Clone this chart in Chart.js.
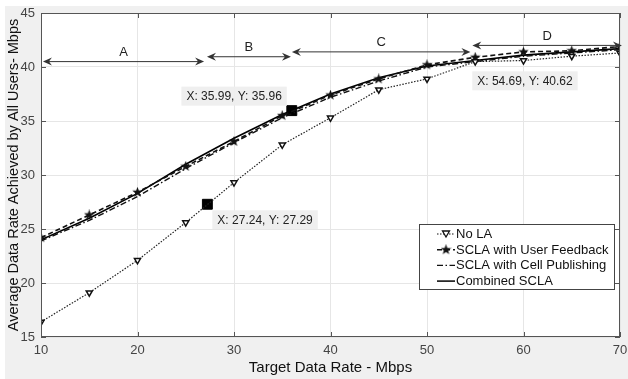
<!DOCTYPE html>
<html>
<head>
<meta charset="utf-8">
<script src="https://cdn.jsdelivr.net/npm/chart.js@4.4.1/dist/chart.umd.min.js"></script>
<style>
  body { margin: 0; background: #fff; }
  #wrap { width: 628px; height: 379px; }
</style>
</head>
<body>
<div id="wrap"><canvas id="chart"></canvas></div>
<script>
// target data rate (Mbps)
const targetRates = [10, 15, 20, 25, 30, 35, 40, 45, 50, 55, 60, 65, 70];

const noLA         = [16.4, 19.1, 22.1, 25.6, 29.3, 32.8, 35.3, 37.9, 38.9, 40.5, 40.6, 41.0, 41.3];
const userFeedback = [24.2, 26.3, 28.4, 30.8, 33.1, 35.5, 37.4, 38.9, 40.2, 40.9, 41.4, 41.5, 41.9];
const cellPublish  = [23.9, 25.8, 28.0, 30.6, 33.0, 35.3, 37.2, 38.7, 40.0, 40.5, 41.0, 41.3, 41.6];
const combined     = [24.0, 26.0, 28.3, 31.0, 33.4, 35.6, 37.5, 39.0, 40.1, 40.6, 41.1, 41.4, 41.7];

const seriesNames = ['No LA', 'SCLA with User Feedback', 'SCLA with Cell Publishing', 'Combined SCLA'];

// data tips
const tipX = [27.24, 35.99, 54.69];
const tipY = [27.29, 35.96, 40.62];
const tipShowMarker = [true, true, false];

// region arrows
const regionNames = ['A', 'B', 'C', 'D'];
const regionFrom  = [10.2, 27.2, 36.0, 54.7];
const regionTo    = [26.9, 35.9, 54.5, 70.2];
const regionLevel = [40.5, 40.95, 41.4, 42.0];

const xTicks = [10, 20, 30, 40, 50, 60, 70];
const yTicks = [15, 20, 25, 30, 35, 40, 45];

const FONT = '"Liberation Sans", Arial, sans-serif';

function makeStar(size) {
  const c = document.createElement('canvas');
  c.width = size; c.height = size;
  const g = c.getContext('2d');
  const cx = size / 2, cy = size / 2, ro = size / 2, ri = ro * 0.42;
  g.beginPath();
  for (let i = 0; i < 10; i++) {
    const r = i % 2 ? ri : ro;
    const a = -Math.PI / 2 + i * Math.PI / 5;
    g.lineTo(cx + r * Math.cos(a), cy + r * Math.sin(a));
  }
  g.closePath();
  g.fillStyle = '#111';
  g.fill();
  return c;
}
const star = makeStar(11);

const toPoints = ys => ys.map((y, i) => ({ x: targetRates[i], y: y }));

const styles = [
  { dash: [1.5, 1.5], width: 1.2, marker: 'tri' },
  { dash: [5, 3], width: 1.6, marker: 'star' },
  { dash: [6, 2.5, 1.5, 2.5], width: 1.4, marker: null },
  { dash: [], width: 1.6, marker: null }
];

function arrowHead(ctx, x, y, dir) {
  ctx.beginPath();
  ctx.moveTo(x, y);
  ctx.lineTo(x - dir * 9, y - 4);
  ctx.lineTo(x - dir * 6, y);
  ctx.lineTo(x - dir * 9, y + 4);
  ctx.closePath();
  ctx.fill();
}

const decor = {
  id: 'decor',
  beforeDraw(chart) {
    const ctx = chart.ctx, a = chart.chartArea;
    ctx.save();
    ctx.fillStyle = '#fff';
    ctx.fillRect(0, 0, chart.width, chart.height);
    ctx.fillStyle = '#f0f0f0';
    ctx.fillRect(5, 6, chart.width - 5, chart.height - 6);
    ctx.fillStyle = '#fff';
    ctx.fillRect(a.left, a.top, a.right - a.left, a.bottom - a.top);
    ctx.restore();
  },
  afterDatasetsDraw(chart) {
    const ctx = chart.ctx, a = chart.chartArea;
    const xs = chart.scales.x, ys = chart.scales.y;
    ctx.save();

    // box and inward ticks
    ctx.strokeStyle = '#555';
    ctx.lineWidth = 1;
    ctx.strokeRect(a.left + 0.5, a.top + 0.5, a.right - a.left - 1, a.bottom - a.top - 1);
    ctx.beginPath();
    xTicks.forEach(v => {
      const px = Math.round(xs.getPixelForValue(v)) + 0.5;
      ctx.moveTo(px, a.bottom); ctx.lineTo(px, a.bottom - 5);
      ctx.moveTo(px, a.top); ctx.lineTo(px, a.top + 5);
    });
    yTicks.forEach(v => {
      const py = Math.round(ys.getPixelForValue(v)) + 0.5;
      ctx.moveTo(a.left, py); ctx.lineTo(a.left + 5, py);
      ctx.moveTo(a.right, py); ctx.lineTo(a.right - 5, py);
    });
    ctx.stroke();

    // region arrows
    ctx.strokeStyle = '#333';
    ctx.fillStyle = '#333';
    ctx.font = '13px ' + FONT;
    ctx.textAlign = 'center';
    ctx.textBaseline = 'middle';
    regionNames.forEach((name, i) => {
      const x1 = xs.getPixelForValue(regionFrom[i]);
      const x2 = xs.getPixelForValue(regionTo[i]);
      const y = ys.getPixelForValue(regionLevel[i]);
      ctx.beginPath();
      ctx.moveTo(x1 + 4, y); ctx.lineTo(x2 - 4, y);
      ctx.stroke();
      arrowHead(ctx, x1, y, -1);
      arrowHead(ctx, x2, y, 1);
      ctx.fillStyle = '#222';
      ctx.fillText(name, (x1 + x2) / 2, y - 9);
      ctx.fillStyle = '#333';
    });

    // data tip boxes
    ctx.font = '12px ' + FONT;
    ctx.textAlign = 'left';
    const offs = [[5, 6, 'below-right'], [-5, -5, 'above-left'], [0, 11, 'below-right']];
    tipX.forEach((tx, i) => {
      const px = xs.getPixelForValue(tx), py = ys.getPixelForValue(tipY[i]);
      const txt = 'X: ' + tx.toFixed(2) + ', Y: ' + tipY[i].toFixed(2);
      const w = ctx.measureText(txt).width + 10, h = 19;
      let bx = px + offs[i][0], by = py + offs[i][1];
      if (offs[i][2] === 'above-left') { bx -= w; by -= h; }
      ctx.fillStyle = 'rgba(238,238,238,0.95)';
      ctx.fillRect(bx, by, w, h);
      ctx.fillStyle = '#222';
      ctx.fillText(txt, bx + 5, by + h / 2 + 0.5);
    });

    // legend
    const lx = a.right - 201, ly = a.top + 211, lw = 195, lh = 65;
    ctx.fillStyle = '#fff';
    ctx.fillRect(lx, ly, lw, lh);
    ctx.strokeStyle = '#444';
    ctx.lineWidth = 1;
    ctx.strokeRect(lx + 0.5, ly + 0.5, lw, lh);
    ctx.font = '13px ' + FONT;
    ctx.textBaseline = 'middle';
    seriesNames.forEach((name, i) => {
      const ry = ly + 10 + i * 15.7;
      const st = styles[i];
      ctx.strokeStyle = '#111';
      ctx.lineWidth = st.width;
      ctx.setLineDash(st.dash);
      ctx.beginPath();
      ctx.moveTo(lx + 18, ry); ctx.lineTo(lx + 36, ry);
      ctx.stroke();
      ctx.setLineDash([]);
      if (st.marker === 'star') {
        ctx.drawImage(star, lx + 27 - 5.5, ry - 5.5);
      } else if (st.marker === 'tri') {
        ctx.beginPath();
        ctx.moveTo(lx + 23.5, ry - 3); ctx.lineTo(lx + 30.5, ry - 3); ctx.lineTo(lx + 27, ry + 3);
        ctx.closePath();
        ctx.fillStyle = '#fff'; ctx.fill();
        ctx.lineWidth = 1.3; ctx.stroke();
      }
      ctx.fillStyle = '#111';
      ctx.fillText(name, lx + 37, ry + 0.5);
    });
    ctx.restore();
  }
};

new Chart(document.getElementById('chart'), {
  type: 'line',
  data: {
    datasets: [
      {
        label: seriesNames[0], data: toPoints(noLA),
        borderColor: '#222', borderWidth: styles[0].width, borderDash: styles[0].dash,
        pointStyle: 'triangle', pointRotation: 180, pointRadius: 3.5,
        pointBackgroundColor: '#fff', pointBorderColor: '#111', pointBorderWidth: 1.5
      },
      {
        label: seriesNames[1], data: toPoints(userFeedback),
        borderColor: '#111', borderWidth: styles[1].width, borderDash: styles[1].dash,
        pointStyle: star, pointRadius: 5
      },
      {
        label: seriesNames[2], data: toPoints(cellPublish),
        borderColor: '#111', borderWidth: styles[2].width, borderDash: styles[2].dash,
        pointRadius: 0
      },
      {
        label: seriesNames[3], data: toPoints(combined),
        borderColor: '#000', borderWidth: styles[3].width,
        pointRadius: 0
      },
      {
        label: 'tips', data: tipX.map((x, i) => ({ x: x, y: tipY[i] })).filter((_, i) => tipShowMarker[i]),
        showLine: false, pointStyle: 'rect', pointRadius: 7,
        pointBackgroundColor: '#000', pointBorderColor: '#000'
      }
    ]
  },
  options: {
    responsive: true,
    maintainAspectRatio: false,
    animation: false,
    layout: { padding: { top: 13, right: 5, left: 0, bottom: 0 } },
    plugins: { legend: { display: false }, tooltip: { enabled: false } },
    scales: {
      x: {
        type: 'linear', min: 10, max: 70,
        afterBuildTicks: s => { s.ticks = xTicks.map(v => ({ value: v })); },
        afterFit: s => { s.height = 42; s.paddingLeft = 0; s.paddingRight = 0; },
        grid: { color: '#e6e6e6', drawTicks: false },
        border: { display: false },
        ticks: { padding: 6, color: '#444', font: { family: FONT, size: 13 } },
        title: { display: true, text: 'Target Data Rate - Mbps', color: '#111',
                 padding: { top: 0, bottom: 2 }, font: { family: FONT, size: 15 } }
      },
      y: {
        min: 15, max: 45,
        afterBuildTicks: s => { s.ticks = yTicks.map(v => ({ value: v })); },
        afterFit: s => { s.width = 41; s.paddingTop = 0; s.paddingBottom = 0; },
        grid: { color: '#e6e6e6', drawTicks: false },
        border: { display: false },
        ticks: { padding: 6, color: '#444', font: { family: FONT, size: 13 } },
        title: { display: true, text: 'Average Data Rate Achieved by All Users- Mbps', color: '#111',
                 padding: { top: 5, bottom: 0 }, font: { family: FONT, size: 14.5 } }
      }
    }
  },
  plugins: [decor]
});
</script>
</body>
</html>
